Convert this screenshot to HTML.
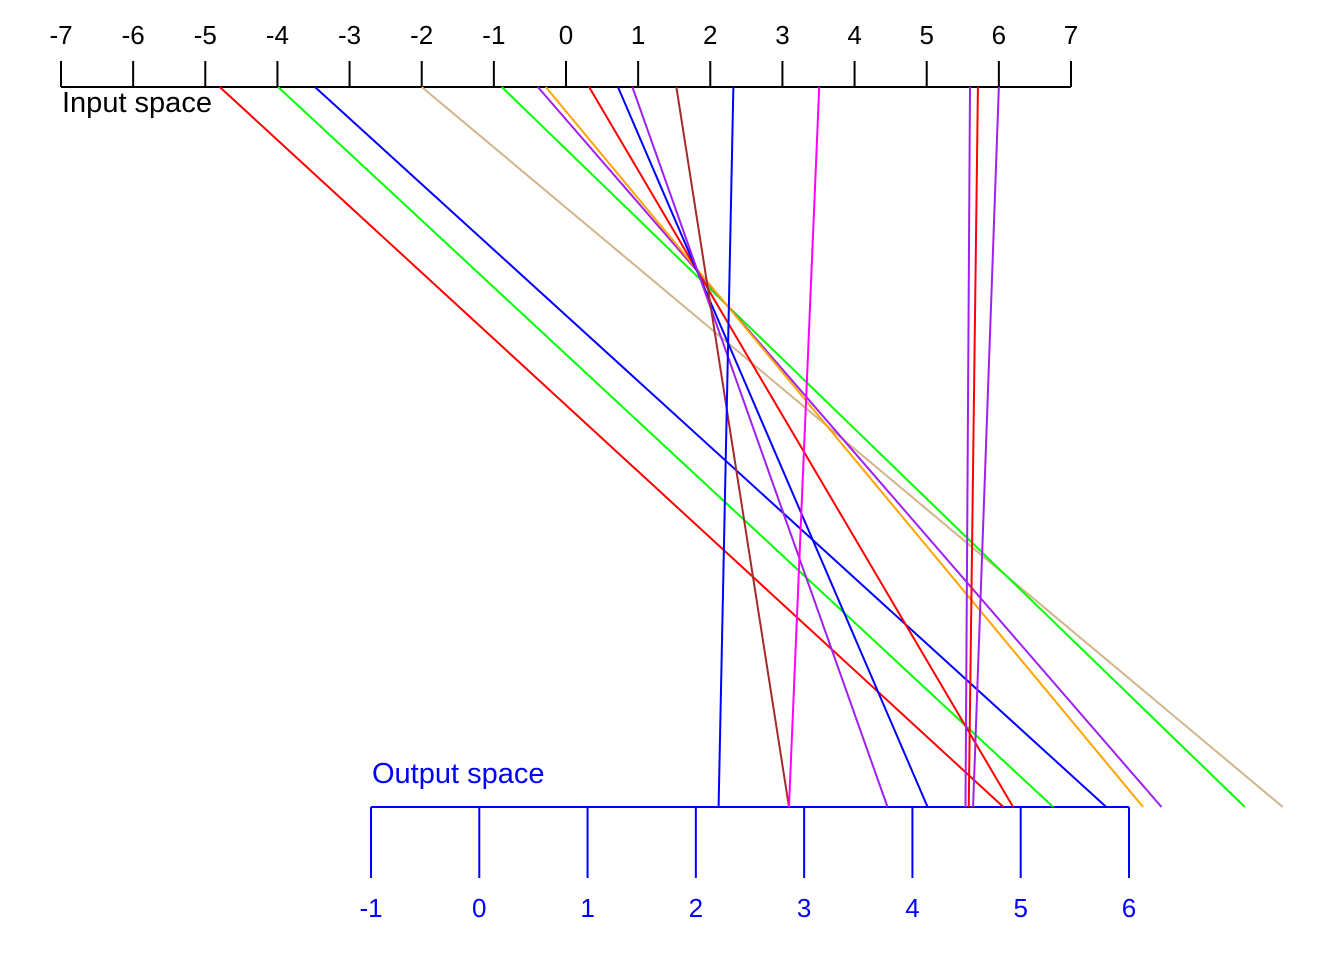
<!DOCTYPE html>
<html><head><meta charset="utf-8"><style>
html,body{margin:0;padding:0;background:#fff;}
svg{display:block;font-family:"Liberation Sans",sans-serif;}
</style></head><body>
<svg id="chart" width="1344" height="960" viewBox="0 0 1344 960"></svg>
<script>
const inputTicks=[-7,-6,-5,-4,-3,-2,-1,0,1,2,3,4,5,6,7];
const outputTicks=[-1,0,1,2,3,4,5,6];
const inputValues=[-4.80,-3.99,-3.48,-2.0,-0.89,-0.39,-0.28,0.32,0.72,0.92,1.53,2.32,3.51,5.60,5.71,6.00];
const outputValues=[4.84,5.30,5.79,7.42,7.07,6.30,6.13,4.93,4.14,3.77,2.86,2.21,2.86,4.49,4.52,4.56];
const lineColors=["#ff0000","#00ff00","#0000ff","#d2b48c","#00ff00","#a020f0","#ffa500","#ff0000","#0000ff","#a020f0","#a52a2a","#0000ff","#ff00ff","#a020f0","#ff0000","#a020f0"];
const NS="http://www.w3.org/2000/svg";
const svg=document.getElementById('chart');
const xIn=v=>61+(v+7)*(1010/14);
const xOut=v=>371+(v+1)*(758/7);
const yIn=87,yOut=807;
function el(tag,attrs,text){const e=document.createElementNS(NS,tag);for(const k in attrs)e.setAttribute(k,attrs[k]);if(text!==undefined)e.textContent=text;svg.appendChild(e);return e;}
let a=el('line',{x1:xIn(-7),x2:xIn(7),y1:yIn,y2:yIn,stroke:'#000','stroke-width':2});


inputTicks.forEach(t=>{
 const tk=el('line',{x1:xIn(t),x2:xIn(t),y1:61,y2:yIn,stroke:'#000','stroke-width':2});
 
 
 const lb=el('text',{x:xIn(t),y:44,'text-anchor':'middle','font-size':26,fill:'#000'},String(t));
 
 
});
let it=el('text',{x:62,y:112,'font-size':29,fill:'#000'},'Input space');


let b=el('line',{x1:xOut(-1),x2:xOut(6),y1:yOut,y2:yOut,stroke:'#0000ff','stroke-width':2});


outputTicks.forEach(t=>{
 const tk=el('line',{x1:xOut(t),x2:xOut(t),y1:yOut,y2:878,stroke:'#0000ff','stroke-width':2});
 
 
 const lb=el('text',{x:xOut(t),y:917,'text-anchor':'middle','font-size':26,fill:'#0000ff'},String(t));
 
 
});
let ot=el('text',{x:372,y:783,'font-size':29,fill:'#0000ff'},'Output space');


inputValues.forEach((v,i)=>{
 const ln=el('line',{x1:xIn(v),y1:yIn,x2:xOut(outputValues[i]),y2:yOut,stroke:lineColors[i],'stroke-width':2});
 
 
});
</script>
</body></html>
